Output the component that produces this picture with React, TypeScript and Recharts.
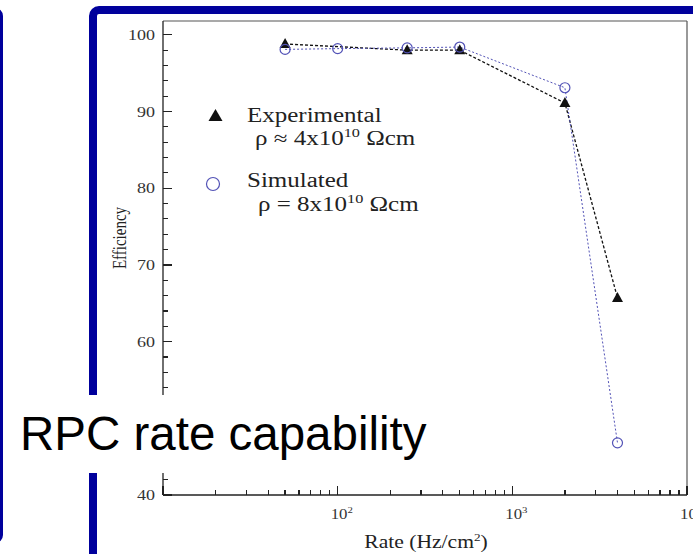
import { Line, LineChart, ReferenceLine, XAxis, YAxis } from 'recharts';

// Efficiency vs rate
const rates = [50, 100, 250, 500, 2000, 4000];
const experimental = [98.8, null, 98.0, 98.0, 91.1, 65.7];
const simulated = [98.1, 98.2, 98.3, 98.4, 93.1, 46.8];

const rateTicks = [
  10, 20, 30, 40, 50, 60, 70, 80, 90,
  100, 200, 300, 400, 500, 600, 700, 800, 900,
  1000, 2000, 3000, 4000, 5000, 6000, 7000, 8000, 9000,
  10000,
];
const rateMajor = [10, 100, 1000, 10000];
const rateLabels = [100, 1000, 10000];
const rateExponents = ['2', '3', '4'];

const effTicks = [
  40, 42, 44, 46, 48, 50, 52, 54, 56, 58, 60, 62, 64, 66, 68, 70,
  72, 74, 76, 78, 80, 82, 84, 86, 88, 90, 92, 94, 96, 98, 100,
];
const effMajor = [40, 50, 60, 70, 80, 90, 100];
// 50 sits under the caption box on the slide
const effLabels = [40, 60, 70, 80, 90, 100];
const effTop = 101.8;

const rows = rates.map((rate, i) => ({ rate, exp: experimental[i], sim: simulated[i] }));

const NAVY = '#00009c';
const SIM_BLUE = '#5252b6';
const SERIF = '"Liberation Serif", "DejaVu Serif", serif';

const RateTick = (props: any) => {
  const { x, y, payload } = props;
  const v = payload.value;
  const major = rateMajor.includes(v);
  const li = rateLabels.indexOf(v);
  return (
    <g>
      <line
        x1={x}
        y1={y}
        x2={x}
        y2={y - (major ? 9 : 5)}
        stroke="#222"
        strokeWidth={1.2}
        shapeRendering="crispEdges"
      />
      {li >= 0 && (
        <text
          transform={`translate(${x - 7},${y + 24}) scale(1.2,1)`}
          fontFamily={SERIF}
          fontSize={14}
          fill="#333"
          stroke="none"
          textAnchor="start"
        >
          10
          <tspan dy={-6} fontSize={9}>
            {rateExponents[li]}
          </tspan>
        </text>
      )}
    </g>
  );
};

const EffTick = (props: any) => {
  const { x, y, payload } = props;
  const v = payload.value;
  const major = effMajor.includes(v);
  return (
    <g>
      <line
        x1={x}
        y1={y}
        x2={x + (major ? 9 : 5)}
        y2={y}
        stroke="#222"
        strokeWidth={1.2}
        shapeRendering="crispEdges"
      />
      {effLabels.includes(v) && (
        <text
          transform={`translate(${x - 8},${y + 5}) scale(1.2,1)`}
          fontFamily={SERIF}
          fontSize={15}
          fill="#333"
          stroke="none"
          textAnchor="end"
        >
          {v}
        </text>
      )}
    </g>
  );
};

const TriangleDot = (props: any) => {
  const { cx, cy, index } = props;
  if (cx == null || cy == null || props.value == null) return <g key={`t${index}`} />;
  return (
    <polygon
      key={`t${index}`}
      points={`${cx - 5.5},${cy + 4} ${cx + 5.5},${cy + 4} ${cx},${cy - 6}`}
      fill="#111"
    />
  );
};

const CircleDot = (props: any) => {
  const { cx, cy, index } = props;
  if (cx == null || cy == null) return <g key={`c${index}`} />;
  return <circle key={`c${index}`} cx={cx} cy={cy} r={5} fill="none" stroke={SIM_BLUE} strokeWidth={1.2} />;
};

export default function App() {
  return (
    <div
      style={{
        position: 'absolute',
        left: 0,
        top: 0,
        width: 693,
        height: 554,
        overflow: 'hidden',
        background: '#fff',
      }}
    >
      {/* right edge of the previous slide frame */}
      <div
        style={{
          position: 'absolute',
          left: -100,
          top: 8,
          width: 103,
          height: 535,
          boxSizing: 'border-box',
          border: `8px solid ${NAVY}`,
          borderRadius: 8,
        }}
      />
      {/* frame around the figure */}
      <div
        style={{
          position: 'absolute',
          left: 89,
          top: 6,
          width: 720,
          height: 620,
          boxSizing: 'border-box',
          border: `8px solid ${NAVY}`,
          borderRadius: 10,
          background: '#fff',
        }}
      />

      <div style={{ position: 'absolute', left: 0, top: 0 }}>
        <LineChart
          width={693}
          height={554}
          data={rows}
          margin={{ top: 21, right: 6, bottom: 29, left: 103 }}
        >
          <XAxis
            dataKey="rate"
            type="number"
            scale="log"
            domain={[10, 10000]}
            ticks={rateTicks}
            interval={0}
            allowDataOverflow
            height={30}
            tickLine={false}
            tickSize={0}
            tickMargin={0}
            tick={<RateTick />}
            axisLine={{ stroke: '#222', strokeWidth: 1.3 }}
          />
          <YAxis
            type="number"
            domain={[40, effTop]}
            ticks={effTicks}
            interval={0}
            allowDataOverflow
            width={60}
            tickLine={false}
            tickSize={0}
            tickMargin={0}
            tick={<EffTick />}
            axisLine={{ stroke: '#222', strokeWidth: 1.3 }}
          />
          <ReferenceLine y={effTop} stroke="#555" strokeWidth={1.2} />
          <ReferenceLine x={10000} stroke="#555" strokeWidth={1.2} />
          <Line
            dataKey="exp"
            stroke="#111"
            strokeWidth={1.3}
            strokeDasharray="3 2"
            connectNulls
            dot={TriangleDot}
            activeDot={false}
            isAnimationActive={false}
          />
          <Line
            dataKey="sim"
            stroke={SIM_BLUE}
            strokeWidth={1}
            strokeDasharray="2 2"
            connectNulls
            dot={CircleDot}
            activeDot={false}
            isAnimationActive={false}
          />
        </LineChart>
      </div>

      {/* legend and axis titles */}
      <svg
        width={693}
        height={554}
        style={{ position: 'absolute', left: 0, top: 0, pointerEvents: 'none' }}
        fontFamily={SERIF}
        fill="#222"
      >
        <polygon points="208.5,121 222.5,121 215.5,109" fill="#111" />
        <text transform="translate(247,122) scale(1.25,1)" fontSize={20}>
          Experimental
        </text>
        <text transform="translate(255,145) scale(1.25,1)" fontSize={20}>
          ρ ≈ 4x10
          <tspan dy={-8} fontSize={13}>
            10
          </tspan>
          <tspan dy={8}> Ωcm</tspan>
        </text>
        <circle cx={213} cy={184} r={6.5} fill="none" stroke={SIM_BLUE} strokeWidth={1.2} />
        <text transform="translate(247,187) scale(1.25,1)" fontSize={20}>
          Simulated
        </text>
        <text transform="translate(258,211) scale(1.25,1)" fontSize={20}>
          ρ = 8x10
          <tspan dy={-8} fontSize={13}>
            10
          </tspan>
          <tspan dy={8}> Ωcm</tspan>
        </text>

        <text transform="translate(126,238) scale(1.2,1) rotate(-90)" fontSize={15} textAnchor="middle">
          Efficiency
        </text>
        <text transform="translate(426,548) scale(1.2,1)" fontSize={18} textAnchor="middle">
          Rate (Hz/cm
          <tspan dy={-7} fontSize={11}>
            2
          </tspan>
          <tspan dy={7}>)</tspan>
        </text>
      </svg>

      {/* slide caption on its white box */}
      <div
        style={{
          position: 'absolute',
          left: 8,
          top: 395,
          width: 432,
          height: 78,
          background: '#fff',
          fontFamily: '"Liberation Sans", Arial, sans-serif',
          fontSize: 47.5,
          lineHeight: '78px',
          color: '#000',
          paddingLeft: 12,
          boxSizing: 'border-box',
          whiteSpace: 'nowrap',
        }}
      >
        RPC rate capability
      </div>
    </div>
  );
}
